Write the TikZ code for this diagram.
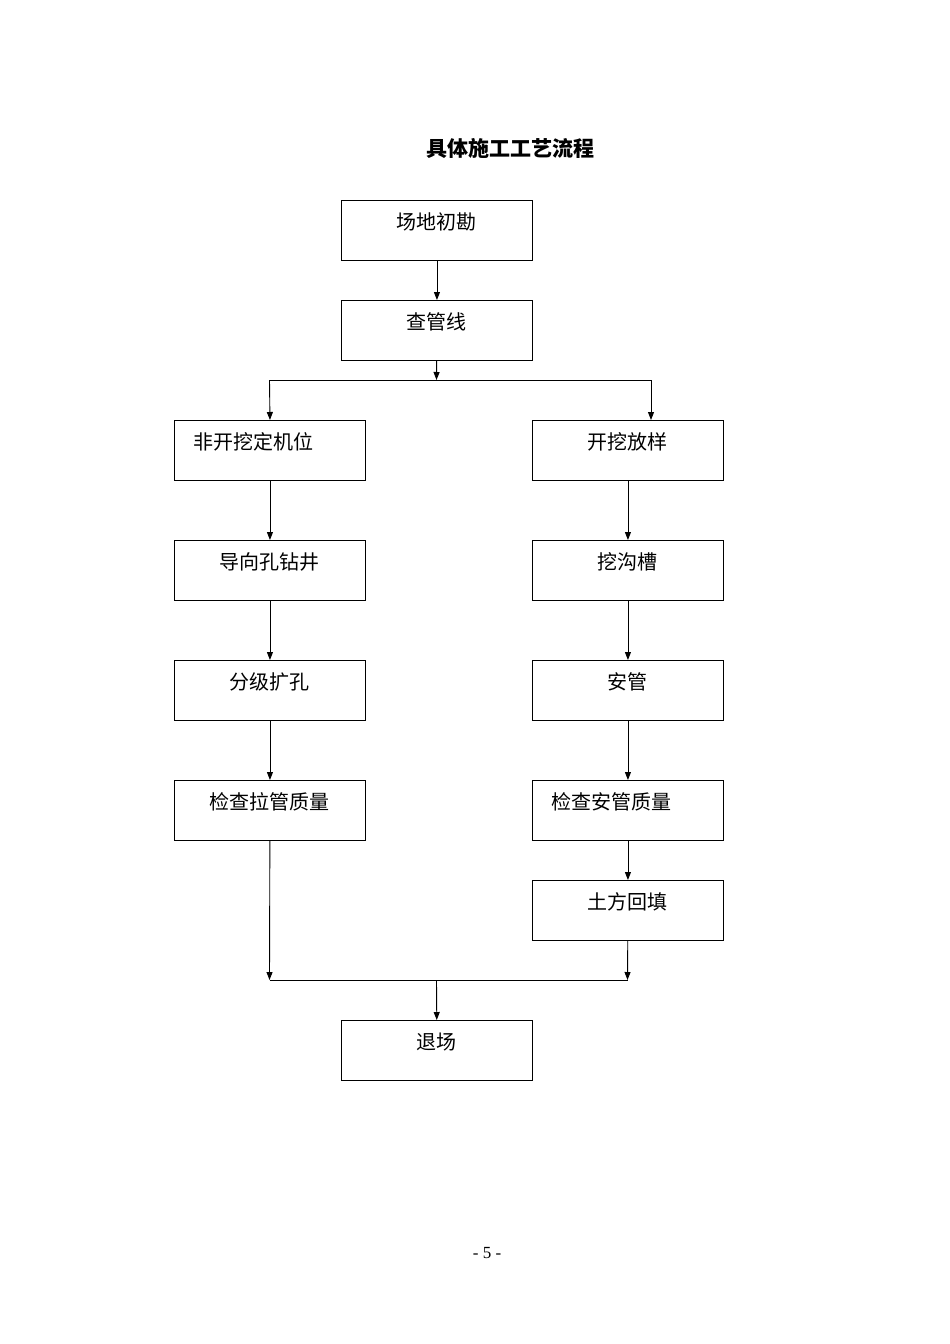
\documentclass[tikz,border=0pt]{standalone}
\usepackage{fontspec}
\setmainfont{Liberation Serif}
\newfontfamily\cjk{Noto Sans CJK SC}
\usetikzlibrary{positioning,arrows.meta}
\tikzset{
  box/.style={draw, line width=0.9pt, minimum width=191pt, minimum height=60pt, anchor=north west, inner sep=0pt},
  txt/.style={anchor=north, yshift=-9pt, font=\cjk\fontsize{20}{22}\selectfont},
  flow/.style={line width=0.9pt, -{Triangle[length=8pt,width=6pt]}},
  line/.style={line width=0.9pt}
}
\begin{document}
\begin{tikzpicture}[x=1pt,y=-1pt]
  \useasboundingbox (0,0) rectangle (950,1344);
  \node[font=\cjk\bfseries\fontsize{21}{23}\selectfont] (title) at (510,148) {具体施工工艺流程};

  % center column
  \node[box, label={[txt]north:场地初勘}] (survey) at (341,200) {};
  \node[box, label={[txt]north:查管线}] (pipes) at (341,300) {};
  % left column
  \node[box, label={[txt,xshift=-16pt]north:非开挖定机位}] (rig) at (174,420) {};
  \node[box, label={[txt]north:导向孔钻井}] (drill) at (174,540) {};
  \node[box, label={[txt]north:分级扩孔}] (ream) at (174,660) {};
  \node[box, label={[txt]north:检查拉管质量}] (checkpull) at (174,780) {};
  % right column
  \node[box, label={[txt]north:开挖放样}] (layout) at (532,420) {};
  \node[box, label={[txt]north:挖沟槽}] (trench) at (532,540) {};
  \node[box, label={[txt]north:安管}] (lay) at (532,660) {};
  \node[box, label={[txt,xshift=-16pt]north:检查安管质量}] (checklay) at (532,780) {};
  \node[box, label={[txt]north:土方回填}] (backfill) at (532,880) {};
  % exit
  \node[box, label={[txt]north:退场}] (leave) at (341,1020) {};

  \coordinate (split) at (436.5,380);
  \coordinate (splitL) at (269.5,380);
  \coordinate (splitR) at (651,380);
  \coordinate (joinL) at (269.5,980);
  \coordinate (joinR) at (627.5,980);
  \coordinate (join) at (436.5,980);

  \draw[flow] (survey) -- (pipes);
  \draw[flow] (pipes) -- (split);
  \draw[line] (splitL) -- (splitR);
  \draw[flow] (splitL) -- (rig.north);
  \draw[flow] (splitR) -- (splitR |- layout.north);
  \draw[flow] (rig) -- (drill);
  \draw[flow] (drill) -- (ream);
  \draw[flow] (ream) -- (checkpull);
  \draw[flow] (layout) -- (trench);
  \draw[flow] (trench) -- (lay);
  \draw[flow] (lay) -- (checklay);
  \draw[flow] (checklay) -- (backfill);
  \draw[flow] (checkpull) -- (joinL);
  \draw[flow] (backfill) -- (joinR);
  \draw[line] (joinL) -- (joinR);
  \draw[flow] (join) -- (leave);

  \node[font=\fontsize{17}{19}\selectfont] (page) at (487,1253) {- 5 -};
\end{tikzpicture}
\end{document}
